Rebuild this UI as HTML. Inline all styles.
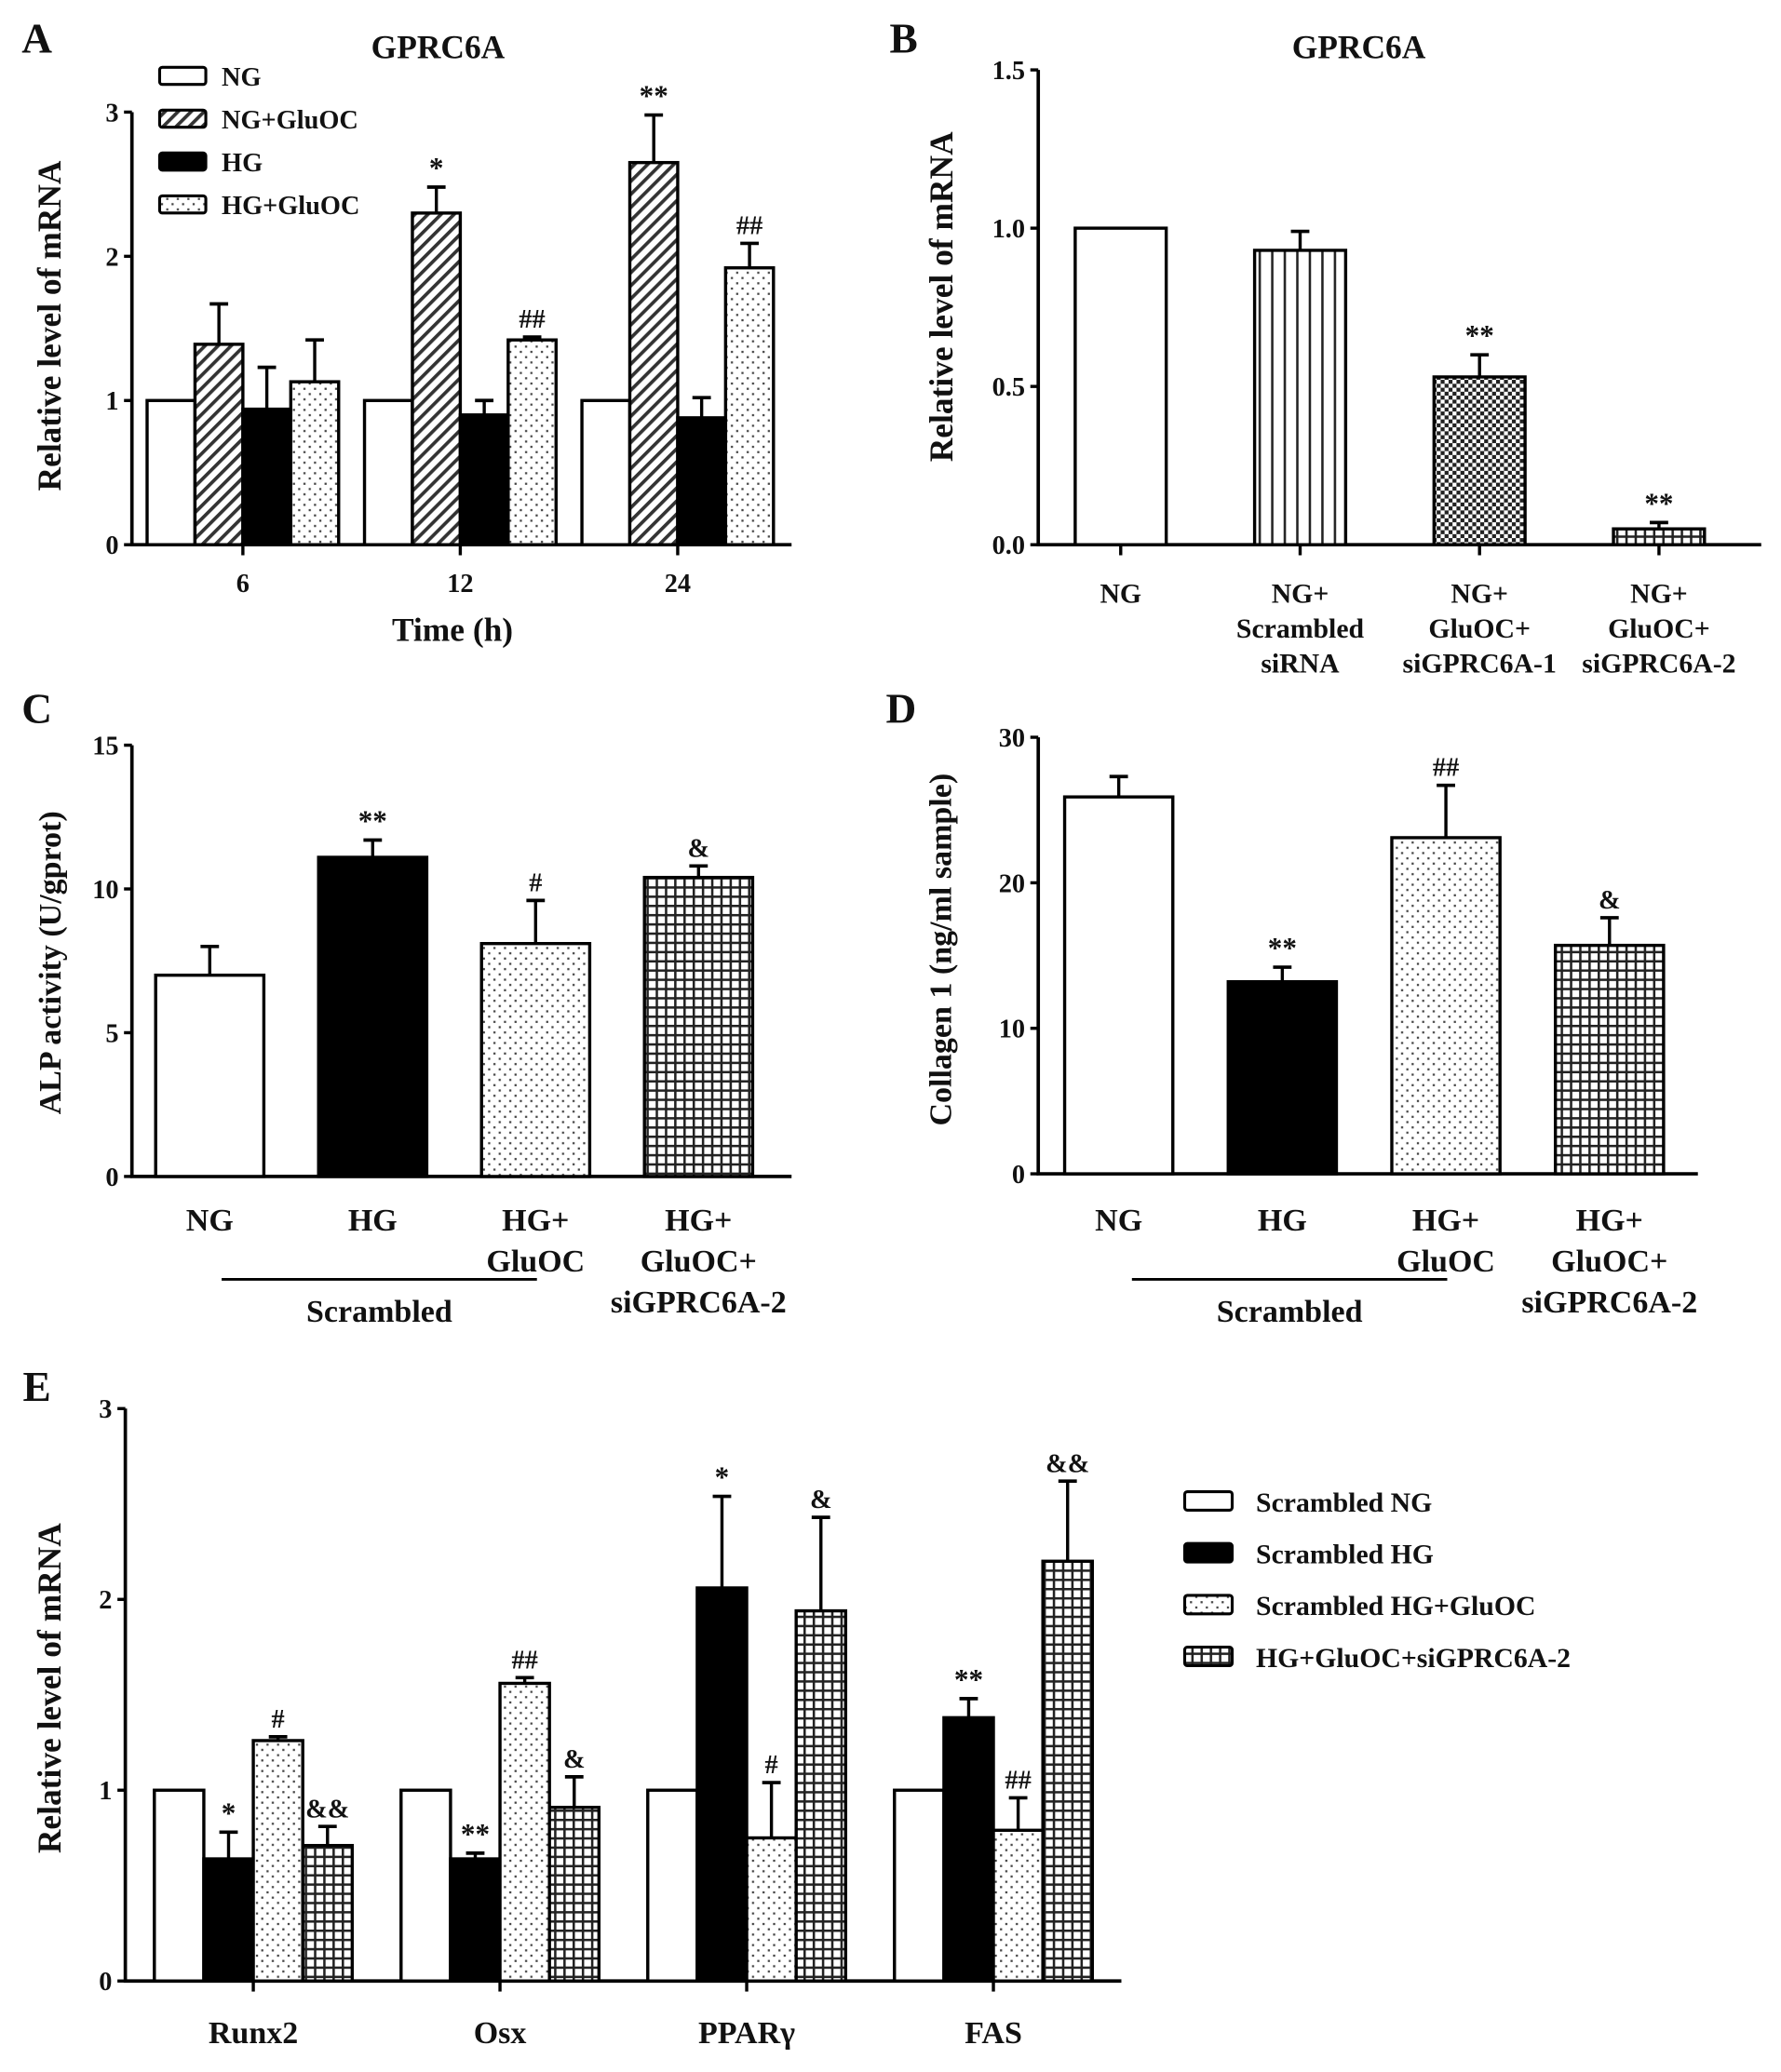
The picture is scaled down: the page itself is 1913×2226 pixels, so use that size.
<!DOCTYPE html>
<html><head><meta charset="utf-8"><style>
html,body{margin:0;padding:0;background:#fff}
svg{display:block}
text{font-family:"Liberation Serif",serif;font-weight:bold;fill:#111}
</style></head><body>
<svg id="fig" width="1913" height="2226" viewBox="0 0 1350 1571" preserveAspectRatio="none" xmlns="http://www.w3.org/2000/svg">
<defs>
<pattern id="diag" width="7" height="7" patternUnits="userSpaceOnUse" patternTransform="rotate(45)"><rect width="7" height="7" fill="#fff"/><rect width="2.6" height="7" fill="#333"/></pattern>
<pattern id="dots" width="8" height="8" patternUnits="userSpaceOnUse"><rect width="8" height="8" fill="#fff"/><rect x="2" y="2" width="1.6" height="1.6" fill="#444"/><rect x="6" y="6" width="1.6" height="1.6" fill="#444"/></pattern>
<pattern id="vlines" width="9.5" height="10" patternUnits="userSpaceOnUse"><rect width="9.5" height="10" fill="#fff"/><rect x="4" width="1.8" height="10" fill="#222"/></pattern>
<pattern id="check" width="6" height="6" patternUnits="userSpaceOnUse"><rect width="6" height="6" fill="#fff"/><rect width="3" height="3" fill="#222"/><rect x="3" y="3" width="3" height="3" fill="#222"/></pattern>
<pattern id="grid" width="7" height="7" patternUnits="userSpaceOnUse"><rect width="7" height="7" fill="#fff"/><rect width="1.8" height="7" fill="#222"/><rect width="7" height="1.8" fill="#222"/></pattern>
</defs>
</svg>
<script>
const NS="http://www.w3.org/2000/svg";
const svg=document.getElementById('fig');
// ---- data ----
const aCats=["6","12","24"];
const aNG=[1,1,1], aNGErr=[1,1,1];
const aNGG=[1.39,2.30,2.65], aNGGErr=[1.67,2.48,2.98];
const aHG=[0.94,0.90,0.88], aHGErr=[1.23,1.00,1.02];
const aHGG=[1.13,1.42,1.92], aHGGErr=[1.42,1.44,2.09];
const aAnn=[["","","",""],["","*","","##"],["","**","","##"]];
const aTicks=["0","1","2","3"];
const bCats=[["NG"],["NG+","Scrambled","siRNA"],["NG+","GluOC+","siGPRC6A-1"],["NG+","GluOC+","siGPRC6A-2"]];
const bVals=[1.0,0.93,0.53,0.05], bErr=[1.0,0.99,0.60,0.07], bAnn=["","","**","**"];
const bTicks=["0.0","0.5","1.0","1.5"];
const cCats=[["NG"],["HG"],["HG+","GluOC"],["HG+","GluOC+","siGPRC6A-2"]];
const cVals=[7.0,11.1,8.1,10.4], cErr=[8.0,11.7,9.6,10.8], cAnn=["","**","#","&"];
const cTicks=["0","5","10","15"];
const dVals=[25.9,13.2,23.1,15.7], dErr=[27.3,14.2,26.7,17.6], dAnn=["","**","##","&"];
const dTicks=["0","10","20","30"];
const eCats=["Runx2","Osx","PPARγ","FAS"];
const eNG=[1,1,1,1], eNGErr=[1,1,1,1];
const eHG=[0.64,0.64,2.06,1.38], eHGErr=[0.78,0.67,2.54,1.48];
const eHGG=[1.26,1.56,0.75,0.79], eHGGErr=[1.28,1.59,1.04,0.96];
const eSi=[0.71,0.91,1.94,2.20], eSiErr=[0.81,1.07,2.43,2.62];
const eAnn=[["","*","#","&&"],["","**","##","&"],["","*","#","&"],["","**","##","&&"]];
const eTicks=["0","1","2","3"];

function el(tag,attrs,parent,txt){const e=document.createElementNS(NS,tag);for(const k in attrs)e.setAttribute(k,attrs[k]);if(txt!==undefined)e.textContent=txt;(parent||svg).appendChild(e);return e;}
function txt(x,y,s,size,anchor,parent,name){const t=el('text',{x:x,y:y,'font-size':size,'text-anchor':anchor||'middle'},parent,s);

return t;}

function axes(g,ax,y0,yTop,xEnd,ticks,catX){
  const ln=el('path',{d:`M${ax},${yTop} V${y0} H${xEnd}`,stroke:'#000','stroke-width':2.6,fill:'none'},g);
  
  
  ticks.forEach((t,i)=>{const y=y0-(y0-yTop)*i/(ticks.length-1);
    el('line',{x1:ax-6,x2:ax,y1:y,y2:y,stroke:'#000','stroke-width':2.4},g);
    txt(ax-10,y+7,t,20,'end',g,'y-tick-label');});
  catX.forEach(x=>el('line',{x1:x,x2:x,y1:y0,y2:y0+8,stroke:'#000','stroke-width':2.4},g));
}
function bar(g,x,w,y0,ytop,yerr,fill,ann,name){
  const r=el('rect',{x:x,y:ytop,width:w,height:y0-ytop,fill:fill,stroke:'#000','stroke-width':2.4},g);
  
  
  const cx=x+w/2;
  if(yerr<ytop-0.5){el('line',{x1:cx,x2:cx,y1:ytop,y2:yerr,stroke:'#000','stroke-width':2.4},g);
    el('line',{x1:cx-7,x2:cx+7,y1:yerr,y2:yerr,stroke:'#000','stroke-width':2.6},g);}
  if(ann){txt(cx,yerr-7,ann,ann.includes('*')?22:20,'middle',g,'significance-mark');}
}
function group(name){const g=el('g',{},svg);return g;}

// ---- Panel A ----
(function(){
 const g=group('panel-a'); const ax=100,y0=413,yTop=85,max=3;
 const Y=v=>y0-(y0-yTop)*v/max;
 const start=111.5,w=36.3,sp=164.8;
 const series=[[aNG,aNGErr,'#fff'],[aNGG,aNGGErr,'url(#diag)'],[aHG,aHGErr,'#000'],[aHGG,aHGGErr,'url(#dots)']];
 const names=['bar-ng','bar-ng-gluoc','bar-hg','bar-hg-gluoc'];
 const catX=aCats.map((c,i)=>start+i*sp+2*w);
 axes(g,ax,y0,yTop,600,aTicks,catX);
 aCats.forEach((c,i)=>{series.forEach((s,j)=>bar(g,start+i*sp+j*w,w,y0,Y(s[0][i]),Y(s[1][i]),s[2],aAnn[i][j],names[j]));
   txt(catX[i],449,c,20,'middle',g,'x-tick-label');});
 txt(28,40,'A',32,'middle',g,'panel-label-a');
 txt(332,44,'GPRC6A',25,'middle',g,'chart-title-a');
 txt(343,486,'Time (h)',25,'middle',g,'x-axis-title-a');
 const yl=txt(0,0,'Relative level of mRNA',25,'middle',g,'y-axis-title-a');yl.setAttribute('transform','translate(46,247) rotate(-90)');
 const leg=['NG','NG+GluOC','HG','HG+GluOC'];
 leg.forEach((l,i)=>{const y=58+i*32.5;
   const r=el('rect',{x:121,y:y-7,width:35,height:13,fill:series[i][2],stroke:'#000','stroke-width':2.2,rx:2},g);
   
   txt(168,y+7,l,20,'start',g,'legend-entry');});
})();

// ---- Panel B ----
(function(){
 const g=group('panel-b'); const ax=787,y0=413,yTop=53,max=1.5;
 const Y=v=>y0-(y0-yTop)*v/max;
 const start=815,w=69,sp=136;
 const fills=['#fff','url(#vlines)','url(#check)','url(#grid)'];
 const catX=bVals.map((v,i)=>start+i*sp+w/2);
 axes(g,ax,y0,yTop,1335,bTicks,catX);
 bVals.forEach((v,i)=>{bar(g,start+i*sp,w,y0,Y(v),Y(bErr[i]),fills[i],bAnn[i],'bar-b-'+i);
   bCats[i].forEach((l,k)=>txt(catX[i],457+k*26.5,l,21,'middle',g,'x-tick-label'));});
 txt(685,40,'B',32,'middle',g,'panel-label-b');
 txt(1030,44,'GPRC6A',25,'middle',g,'chart-title-b');
 const yl=txt(0,0,'Relative level of mRNA',25,'middle',g,'y-axis-title-b');yl.setAttribute('transform','translate(722,225) rotate(-90)');
})();

// ---- Panels C & D ----
function cd(name,ax,y0,yTop,max,start,w,sp,vals,errs,anns,ticks,letter,ytitle,titleX,titleY,lineX1,lineX2){
 const g=group(name);const Y=v=>y0-(y0-yTop)*v/max;
 const fills=['#fff','#000','url(#dots)','url(#grid)'];
 const catX=vals.map((v,i)=>start+i*sp+w/2);
 axes(g,ax,y0,yTop,ax+500,ticks,[]);
 vals.forEach((v,i)=>{bar(g,start+i*sp,w,y0,Y(v),Y(errs[i]),fills[i],anns[i],name+'-bar-'+i);
   cCats[i].forEach((l,k)=>txt(catX[i],933+k*31,l,24,'middle',g,'x-tick-label'));});
 el('line',{x1:lineX1,x2:lineX2,y1:970,y2:970,stroke:'#000','stroke-width':2},g);
 txt((lineX1+lineX2)/2,1002,'Scrambled',24,'middle',g,'scrambled-group-label');
 txt(letter[1],548,letter[0],32,'middle',g,'panel-label');
 const yl=txt(0,0,ytitle,24,'middle',g,'y-axis-title');yl.setAttribute('transform',`translate(${titleX},${titleY}) rotate(-90)`);
}
cd('panel-c',100,892,565,15,118,82,123.5,cVals,cErr,cAnn,cTicks,['C',28],'ALP activity (U/gprot)',46,730,168,407);
cd('panel-d',787,890,559,30,807,82,124,dVals,dErr,dAnn,dTicks,['D',683],'Collagen 1 (ng/ml sample)',721,720,858,1097);

// ---- Panel E ----
(function(){
 const g=group('panel-e'); const ax=95,y0=1502,yTop=1068,max=3;
 const Y=v=>y0-(y0-yTop)*v/max;
 const start=117,w=37.5,sp=187;
 const series=[[eNG,eNGErr,'#fff'],[eHG,eHGErr,'#000'],[eHGG,eHGGErr,'url(#dots)'],[eSi,eSiErr,'url(#grid)']];
 const names=['bar-scrambled-ng','bar-scrambled-hg','bar-scrambled-hg-gluoc','bar-hg-gluoc-sigprc6a-2'];
 const catX=eCats.map((c,i)=>start+i*sp+2*w);
 axes(g,ax,y0,yTop,850,eTicks,catX);
 eCats.forEach((c,i)=>{series.forEach((s,j)=>bar(g,start+i*sp+j*w,w,y0,Y(s[0][i]),Y(s[1][i]),s[2],eAnn[i][j],names[j]));
   txt(catX[i],1549,c,24,'middle',g,'x-tick-label');});
 txt(28,1062,'E',32,'middle',g,'panel-label-e');
 const yl=txt(0,0,'Relative level of mRNA',25,'middle',g,'y-axis-title-e');yl.setAttribute('transform','translate(46,1280) rotate(-90)');
 const leg=['Scrambled NG','Scrambled HG','Scrambled HG+GluOC','HG+GluOC+siGPRC6A-2'];
 leg.forEach((l,i)=>{const y=1138+i*39.3;
   const r=el('rect',{x:898,y:y-7,width:36,height:14,fill:series[i][2],stroke:'#000','stroke-width':2.2,rx:2},g);
   
   txt(952,y+8,l,21,'start',g,'legend-entry');});
})();
</script>
</body></html>
